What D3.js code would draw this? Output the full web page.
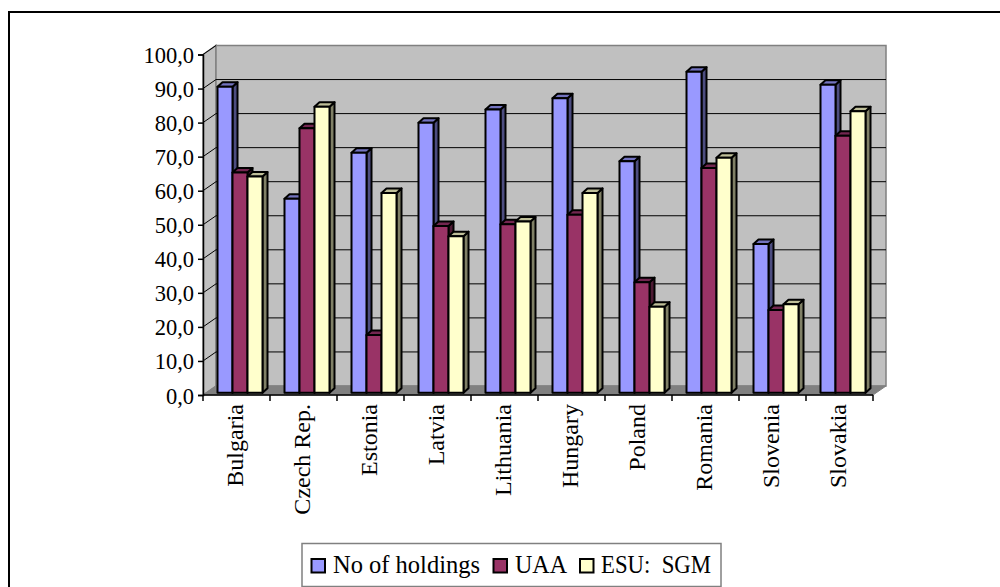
<!DOCTYPE html>
<html><head><meta charset="utf-8">
<script src="https://cdn.jsdelivr.net/npm/d3@7/dist/d3.min.js"></script>
<style>html,body{margin:0;padding:0;background:#fff;overflow:hidden}svg{display:block}text{font-family:"Liberation Serif",serif;fill:#000}</style>
</head><body><script>
const categories=["Bulgaria","Czech Rep.","Estonia","Latvia","Lithuania","Hungary","Poland","Romania","Slovenia","Slovakia"];
const seriesNames=["No of holdings","UAA","ESU:  SGM"];
const holdings=[89.9,57,70.5,79.3,83.2,86.5,68,94.3,43.7,90.5];
const uaa=[64.7,77.7,17,49,49.5,52.3,32.5,66,24.3,75.5];
const esu=[63.5,84,58.7,46,50.3,58.7,25.3,69,26,82.7];
const seriesValues=[holdings,uaa,esu];
const colors=["#9999ff","#993366","#ffffcc"];
const sideColors=["#4d4d80","#4d1a33","#808066"];
const topColors=["#7373bf","#732650","#bfbf99"];
const yTicks=d3.range(0,101,10);

const W=1000,H=587;
const svg=d3.select("body").append("svg").attr("width",W).attr("height",H);
svg.append("rect").attr("x",9).attr("y",12).attr("width",1100).attr("height",700).attr("fill","#fff").attr("stroke","#000").attr("stroke-width",2);

const x0=d3.scaleBand().domain(categories).range([203,873]);
const x1=d3.scaleBand().domain([0,1,2]).range([14.5,59.5]);
const y=d3.scaleLinear().domain([0,100]).range([395,54.5]);
const dx=13,dy=-9;
const wall="#c0c0c0",edge="#808080";
const pts=a=>a.map(p=>p.join(",")).join(" ");
const x00=x0.range()[0],x01=x0.range()[1],y0=y(0),y100=y(100);

svg.append("polygon").attr("points",pts([[x00,y100],[x00+dx,y100+dy],[x00+dx,y0+dy],[x00,y0]])).attr("fill",wall).attr("stroke",edge).attr("stroke-width",1.5);
svg.append("polygon").attr("points",pts([[x00+dx,y100+dy],[x01+dx,y100+dy],[x01+dx,y0+dy],[x00+dx,y0+dy]])).attr("fill",wall).attr("stroke",edge).attr("stroke-width",1.5);
svg.append("polygon").attr("points",pts([[x00,y0],[x00+dx,y0+dy],[x01+dx,y0+dy],[x01,y0]])).attr("fill",edge).attr("stroke",edge);

const grid=svg.append("g");
yTicks.filter(t=>t>0&&t<100).forEach(t=>{
  grid.append("line").attr("x1",x00+dx).attr("x2",x01+dx).attr("y1",y(t)+dy).attr("y2",y(t)+dy).attr("stroke","#000");
});
yTicks.filter(t=>t>0).forEach(t=>{
  grid.append("line").attr("x1",x00).attr("x2",x00+dx).attr("y1",y(t)).attr("y2",y(t)+dy).attr("stroke","#000");
});

const bz=2.2,sx=5,sy=4.5;
const yb=v=>y(v)-bz;
categories.forEach((c,i)=>{
  seriesValues.forEach((vals,s)=>{
    const v=vals[i];
    const l=x0(c)+x1(s),r=l+x1.bandwidth(),t=yb(v),b=yb(0);
    const g=svg.append("g").attr("stroke","#000").attr("stroke-width",2).attr("stroke-linejoin","round");
    g.append("polygon").attr("points",pts([[r,t],[r+sx,t-sy],[r+sx,b-sy],[r,b]])).attr("fill",sideColors[s]);
    g.append("polygon").attr("points",pts([[l,t],[l+sx,t-sy],[r+sx,t-sy],[r,t]])).attr("fill",topColors[s]);
    g.append("rect").attr("x",l).attr("y",t).attr("width",r-l).attr("height",b-t).attr("fill",colors[s]);
  });
});

const yAxis=svg.append("g").attr("transform",`translate(${x00},0)`).call(d3.axisLeft(y).tickValues(yTicks).tickSize(5).tickFormat(d=>d3.format(".1f")(d).replace(".",",")));
yAxis.selectAll("line").attr("stroke-width",1.5);
yAxis.selectAll("text").attr("x",-9).attr("dy","8px").style("font-family","Liberation Serif").style("font-size","22.5px");
yAxis.select(".domain").attr("stroke","#000").attr("stroke-width",1.5);
const xAxis=svg.append("g").attr("transform",`translate(0,${y0})`);
xAxis.append("line").attr("x1",x00).attr("x2",x01).attr("stroke","#000").attr("stroke-width",1.5);
categories.concat([null]).forEach(c=>{
  const xp=c?x0(c):x01;
  xAxis.append("line").attr("x1",xp).attr("x2",xp).attr("y1",0).attr("y2",6).attr("stroke","#000").attr("stroke-width",1.5);
});
categories.forEach(c=>{
  const cx=x0(c)+x0.bandwidth()/2-1;
  svg.append("text").attr("transform",`translate(${cx},404) rotate(-90)`).attr("text-anchor","end").attr("dy","0.33em").attr("font-size",24).text(c);
});

const lg=svg.append("g");
lg.append("rect").attr("x",302).attr("y",543.5).attr("width",419).attr("height",43).attr("fill","#fff").attr("stroke","#808080").attr("stroke-width",1.5);
const lx=[311.5,493.5,580],tx=[333,515,601],tw=[147,52,110];
seriesNames.forEach((n,i)=>{
  lg.append("rect").attr("x",lx[i]).attr("y",559).attr("width",13.5).attr("height",13.5).attr("fill",colors[i]).attr("stroke","#000").attr("stroke-width",2);
  lg.append("text").attr("x",tx[i]).attr("y",573).attr("font-size",24.5).attr("textLength",tw[i]).attr("lengthAdjust","spacingAndGlyphs").style("white-space","pre").text(n);
});
</script></body></html>
